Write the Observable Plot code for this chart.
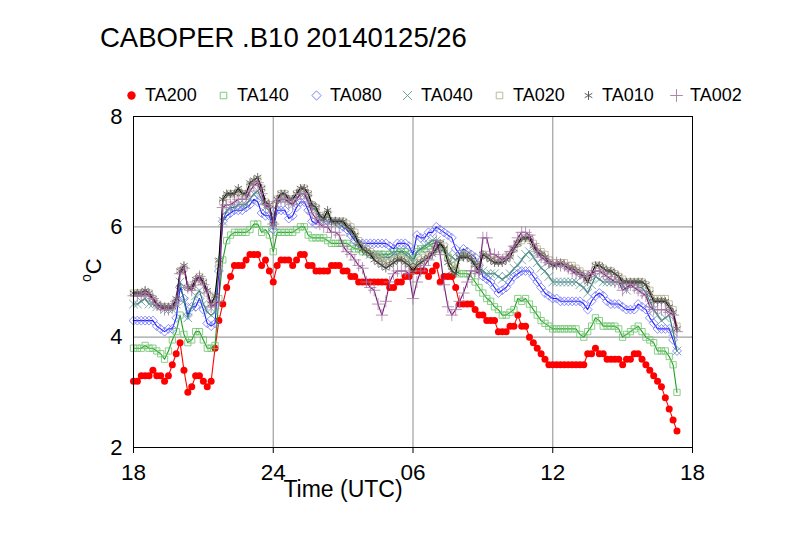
<!DOCTYPE html>
<html><head><meta charset="utf-8">
<script src="https://cdn.jsdelivr.net/npm/d3@7"></script>
<script src="https://cdn.jsdelivr.net/npm/@observablehq/plot@0.6"></script>
<style>
body{margin:0;background:#fff;font-family:"Liberation Sans",Arial,sans-serif;}
#wrap{position:relative;width:790px;height:545px;overflow:hidden;background:#fff;}
#head{position:relative;width:790px;height:100px;}
#title{position:absolute;left:100px;top:24px;font-size:27.5px;line-height:27px;white-space:nowrap;color:#000;}
.leg{position:absolute;top:86px;height:18px;line-height:18px;font-size:18px;white-space:nowrap;color:#000;}
.leg svg{position:absolute;left:0;top:2px;}
.leg span{position:absolute;left:20px;top:0;}
</style></head>
<body><div id="wrap"><div id="head"><div id="title">CABOPER .B10 20140125/26</div></div><div id="chart"></div></div>
<script>
// 10-minute samples from 2014-01-25 18:00 UTC
const startMs = Date.UTC(2014, 0, 25, 18);
const stepMs = 10 * 60 * 1000;

const TA200 = [
 3.2,3.2,3.3,3.3,3.3,3.4,3.3,3.3,3.2,3.3,3.5,3.7,
 3.9,3.4,3.0,3.1,3.3,3.3,3.2,3.1,3.2,3.8,4.3,4.6,
 4.9,5.1,5.3,5.3,5.3,5.4,5.5,5.5,5.5,5.3,5.4,5.2,
 5.0,5.3,5.4,5.4,5.4,5.3,5.4,5.5,5.5,5.3,5.3,5.2,
 5.2,5.2,5.2,5.3,5.3,5.3,5.2,5.2,5.1,5.1,5.0,5.0,
 5.0,5.0,5.0,5.0,5.0,5.0,4.9,4.9,5.0,5.0,5.1,5.1,
 5.2,5.2,5.2,5.2,5.1,5.2,5.3,5.0,5.1,5.1,5.1,4.9,
 4.6,4.6,4.6,4.6,4.5,4.4,4.4,4.3,4.3,4.3,4.1,4.1,
 4.1,4.2,4.2,4.4,4.2,4.2,4.0,3.9,3.8,3.7,3.6,3.5,
 3.5,3.5,3.5,3.5,3.5,3.5,3.5,3.5,3.5,3.7,3.7,3.8,
 3.7,3.7,3.6,3.6,3.6,3.6,3.5,3.6,3.6,3.7,3.7,3.6,
 3.5,3.4,3.3,3.2,3.1,2.9,2.7,2.5,2.3];

const TA140 = [
 3.8,3.8,3.8,3.85,3.8,3.8,3.75,3.7,3.6,3.75,3.95,4.1,
 4.4,4.05,3.9,3.95,4.1,4.1,3.95,3.8,3.8,3.85,4.7,5.4,
 5.75,5.85,5.9,5.9,5.9,5.9,5.95,6.05,6.05,5.9,5.95,5.85,
 5.55,5.9,5.9,5.9,5.9,5.9,5.95,6.0,6.0,5.85,5.8,5.8,
 5.8,5.8,5.75,5.7,5.7,5.7,5.7,5.7,5.65,5.6,5.6,5.55,
 5.55,5.5,5.5,5.5,5.5,5.5,5.5,5.55,5.55,5.55,5.55,5.5,
 5.4,5.55,5.6,5.6,5.65,5.7,5.7,5.6,5.55,5.45,5.3,5.2,
 5.15,5.15,5.15,5.1,5.0,4.9,4.8,4.7,4.65,4.55,4.5,4.4,
 4.4,4.45,4.5,4.7,4.65,4.7,4.6,4.5,4.4,4.3,4.25,4.2,
 4.15,4.15,4.15,4.15,4.15,4.15,4.15,4.05,4.0,4.1,4.2,4.35,
 4.3,4.2,4.2,4.2,4.2,4.15,4.0,4.05,4.1,4.15,4.2,4.1,
 4.0,3.95,3.9,3.75,3.75,3.75,3.65,3.5,3.0];

const TA080 = [
 4.3,4.3,4.3,4.3,4.3,4.3,4.2,4.15,4.1,4.15,4.15,4.35,
 4.9,4.7,4.4,4.55,4.55,4.7,4.5,4.25,4.2,4.25,5.2,6.1,
 6.2,6.25,6.3,6.3,6.3,6.35,6.4,6.5,6.45,6.25,6.2,6.2,
 5.95,6.3,6.3,6.3,6.15,6.2,6.35,6.45,6.45,6.3,6.1,6.05,
 6.15,6.1,6.1,6.1,6.1,6.05,6.0,5.95,5.85,5.75,5.7,5.7,
 5.7,5.7,5.7,5.7,5.7,5.7,5.65,5.6,5.7,5.7,5.7,5.65,
 5.5,5.85,5.8,5.8,5.9,5.9,6.0,5.95,5.9,5.85,5.8,5.6,
 5.5,5.6,5.55,5.5,5.45,5.3,5.1,5.05,5.0,4.9,4.8,4.85,
 4.9,5.0,5.1,5.15,5.2,5.2,5.2,5.1,5.0,4.9,4.8,4.75,
 4.7,4.7,4.65,4.65,4.65,4.65,4.65,4.65,4.6,4.5,4.65,4.75,
 4.8,4.75,4.65,4.6,4.6,4.6,4.55,4.5,4.5,4.5,4.6,4.55,
 4.5,4.35,4.25,4.15,4.15,4.15,4.15,3.95,3.75];

const TA040 = [
 4.6,4.6,4.65,4.7,4.6,4.6,4.55,4.55,4.5,4.5,4.5,4.6,
 5.0,4.65,4.35,4.55,4.75,4.85,4.6,4.45,4.4,4.45,5.35,6.1,
 6.3,6.35,6.35,6.4,6.4,6.4,6.5,6.6,6.65,6.5,6.35,6.3,
 6.0,6.4,6.5,6.5,6.45,6.4,6.5,6.6,6.6,6.5,6.35,6.3,
 6.15,6.1,6.2,6.1,6.05,6.05,6.05,6.0,5.9,5.8,5.7,5.6,
 5.55,5.5,5.5,5.5,5.45,5.45,5.45,5.5,5.5,5.55,5.5,5.45,
 5.35,5.55,5.6,5.65,5.7,5.75,5.75,5.7,5.6,5.5,5.45,5.4,
 5.45,5.55,5.5,5.45,5.35,5.25,5.2,5.15,5.15,5.15,5.1,5.05,
 5.1,5.15,5.25,5.3,5.4,5.5,5.55,5.45,5.35,5.25,5.2,5.1,
 5.0,5.0,5.0,5.0,5.0,5.0,5.0,4.95,4.9,4.8,4.95,5.1,
 5.05,5.0,5.0,5.0,5.0,5.0,4.95,4.85,4.95,5.0,4.9,4.9,
 4.8,4.65,4.5,4.4,4.3,4.35,4.4,4.1,3.75];

const TA020 = [
 4.8,4.8,4.8,4.8,4.8,4.7,4.6,4.55,4.55,4.55,4.55,4.65,
 5.2,5.25,4.9,4.9,5.0,5.1,5.0,4.8,4.6,4.7,5.3,6.45,
 6.55,6.6,6.6,6.65,6.6,6.6,6.75,6.8,6.85,6.7,6.45,6.4,
 6.05,6.5,6.6,6.6,6.5,6.5,6.6,6.65,6.7,6.6,6.4,6.35,
 6.2,6.15,6.25,6.1,6.1,6.1,6.1,6.05,6.0,5.9,5.75,5.65,
 5.6,5.55,5.5,5.45,5.4,5.35,5.35,5.4,5.45,5.45,5.4,5.35,
 5.25,5.35,5.4,5.45,5.5,5.55,5.6,5.7,5.65,5.45,5.3,5.25,
 5.45,5.5,5.5,5.45,5.35,5.3,5.5,5.5,5.45,5.4,5.4,5.4,
 5.45,5.5,5.6,5.7,5.75,5.8,5.8,5.7,5.6,5.55,5.5,5.4,
 5.35,5.35,5.35,5.35,5.3,5.3,5.25,5.2,5.15,5.05,5.15,5.3,
 5.3,5.25,5.2,5.2,5.15,5.1,5.05,5.0,5.0,5.0,5.0,5.0,
 4.95,4.85,4.7,4.7,4.7,4.7,4.6,4.5,4.2];

const TA010 = [
 4.8,4.8,4.8,4.85,4.8,4.7,4.6,4.55,4.55,4.55,4.55,4.7,
 5.2,5.3,4.9,4.9,5.05,5.1,5.0,4.85,4.6,4.75,5.4,6.5,
 6.6,6.6,6.6,6.7,6.6,6.6,6.8,6.85,6.9,6.7,6.45,6.4,
 6.05,6.5,6.6,6.6,6.5,6.5,6.6,6.7,6.7,6.6,6.4,6.35,
 6.2,6.15,6.3,6.1,6.1,6.1,6.1,6.0,5.95,5.85,5.7,5.6,
 5.55,5.5,5.4,5.35,5.3,5.25,5.3,5.35,5.4,5.4,5.35,5.3,
 5.2,5.3,5.35,5.4,5.45,5.5,5.6,5.7,5.6,5.35,5.2,5.15,
 5.45,5.45,5.45,5.4,5.3,5.2,5.5,5.45,5.4,5.35,5.35,5.35,
 5.4,5.45,5.6,5.7,5.8,5.8,5.8,5.65,5.55,5.5,5.45,5.35,
 5.3,5.3,5.35,5.3,5.25,5.25,5.2,5.15,5.1,5.0,5.15,5.3,
 5.3,5.25,5.2,5.2,5.15,5.1,5.0,5.0,5.0,5.0,5.0,5.0,
 4.95,4.8,4.65,4.65,4.65,4.65,4.55,4.45,4.15];

const TA002 = [
 4.75,4.75,4.75,4.8,4.75,4.7,4.6,4.55,4.5,4.5,4.55,4.65,
 5.15,5.25,4.9,4.85,5.0,5.1,4.95,4.8,4.55,4.6,4.65,6.35,
 6.4,6.4,6.45,6.5,6.5,6.5,6.65,6.75,6.8,6.6,6.4,6.35,
 6.05,6.45,6.5,6.5,6.45,6.4,6.5,6.6,6.6,6.45,6.25,6.15,
 6.05,6.0,6.0,5.9,5.9,5.85,5.65,5.55,5.5,5.4,5.3,5.25,
 5.0,4.9,4.85,4.6,4.4,4.65,5.0,5.15,5.2,5.2,5.2,5.15,
 4.7,5.0,5.2,5.3,5.4,5.55,5.75,5.5,4.95,4.55,4.4,4.5,
 4.65,4.8,5.0,5.2,5.2,5.15,5.8,5.8,5.5,5.5,5.45,5.4,
 5.45,5.55,5.65,5.8,5.9,5.9,5.85,5.7,5.55,5.45,5.4,5.35,
 5.35,5.35,5.3,5.3,5.25,5.2,5.15,5.15,5.1,5.1,5.15,5.2,
 5.2,5.15,5.1,5.05,5.0,5.0,4.85,4.9,4.95,4.9,4.85,4.8,
 4.75,4.55,4.5,4.5,4.5,4.5,4.45,4.4,4.1];

const seriesNames  = ["TA200","TA140","TA080","TA040","TA020","TA010","TA002"];
const seriesValues = [TA200, TA140, TA080, TA040, TA020, TA010, TA002];
const lineColors   = ["#ff0000","#1f9f1f","#1c1cff","#2e7676","#8c8658","#000000","#781a78"];
const markColors   = ["#ff0000","#6cc46c","#6e6eff","#5e9696","#b8b090","#505050","#a67aa6"];
const symbols      = ["circle","square2","diamond2","times","square2","asterisk","plus"];
const legendTextX  = [145, 237, 330, 421, 513, 602, 690];

const xTickHours  = [0, 6, 12, 18, 24];
const xTickLabels = ["18","24","06","12","18"];
const yTicks = [2, 4, 6, 8];
const yGrid = [4, 6];

const xTicks = xTickHours.map(h => new Date(startMs + h * 3600000));
const tickLabel = new Map(xTicks.map((d, i) => [+d, xTickLabels[i]]));

const rows = seriesNames.map((s, k) =>
  seriesValues[k].map((v, i) => ({t: new Date(startMs + i * stepMs), v, s})));

const marks = [
  Plot.gridX(xTicks.slice(1, -1), {stroke: "#a0a0a0", strokeOpacity: 1, strokeWidth: 1.2}),
  Plot.gridY(yGrid, {stroke: "#a0a0a0", strokeOpacity: 1, strokeWidth: 1.2}),
  Plot.axisX(xTicks, {tickFormat: d => tickLabel.get(+d), tickSize: 6, tickPadding: 11, fontSize: 22.5, label: null}),
  Plot.axisY(yTicks, {tickFormat: d => String(d), tickSize: 0, tickPadding: 11, fontSize: 22, label: null})
];
rows.forEach((data, k) => {
  marks.push(Plot.line(data, {x: "t", y: "v", stroke: lineColors[k], strokeWidth: 1.1}));
  if (symbols[k] === "circle") {
    marks.push(Plot.dot(data, {x: "t", y: "v", r: 3.5, fill: markColors[k], stroke: "none"}));
  } else {
    marks.push(Plot.dot(data, {x: "t", y: "v", r: 4, symbol: symbols[k], stroke: markColors[k], strokeWidth: 0.8, fill: "none"}));
  }
});
marks.push(Plot.frame({stroke: "#000", strokeWidth: 1}));
marks.push(Plot.text(["Time (UTC)"], {frameAnchor: "bottom", dx: -70, dy: 49, fontSize: 23}));
marks.push(Plot.text(["oC"], {frameAnchor: "left", dx: -43, rotate: -90, fontSize: 22}));

const chart = Plot.plot({
  width: 790,
  height: 445,
  marginTop: 16,
  marginBottom: 98,
  marginLeft: 133,
  marginRight: 98,
  style: {fontFamily: "'Liberation Sans', Arial, sans-serif", fontSize: "21px", background: "#fff", color: "#000"},
  x: {type: "utc", domain: [xTicks[0], xTicks[xTicks.length - 1]], label: null},
  y: {domain: [2, 8], label: null},
  marks
});
document.getElementById("chart").appendChild(chart);

// superscript o in the y label
d3.select(chart).selectAll("text").filter(function() { return this.textContent === "oC"; })
  .each(function() {
    const t = d3.select(this);
    t.text(null);
    t.append("tspan").attr("font-size", 14).attr("dy", "-0.45em").text("o");
    t.append("tspan").attr("font-size", 22).attr("dy", "0.45em").text("C");
  });

// legend
const head = d3.select("#head");
const symMap = {circle: d3.symbolCircle, square2: d3.symbolSquare2, diamond2: d3.symbolDiamond2,
  times: d3.symbolTimes, asterisk: d3.symbolAsterisk, plus: d3.symbolPlus};
seriesNames.forEach((s, k) => {
  const item = head.append("div").attr("class", "leg").style("left", (legendTextX[k] - 21) + "px");
  const svg = item.append("svg").attr("width", 15).attr("height", 15);
  const path = svg.append("path").attr("transform", "translate(7.5,7.5)")
    .attr("d", d3.symbol(symMap[symbols[k]], symbols[k] === "circle" ? 55 : 55)());
  if (symbols[k] === "circle") path.attr("fill", markColors[k]);
  else path.attr("fill", "none").attr("stroke", markColors[k]).attr("stroke-width", 0.9);
  item.append("span").style("left", "21px").text(s);
});
</script></body></html>
